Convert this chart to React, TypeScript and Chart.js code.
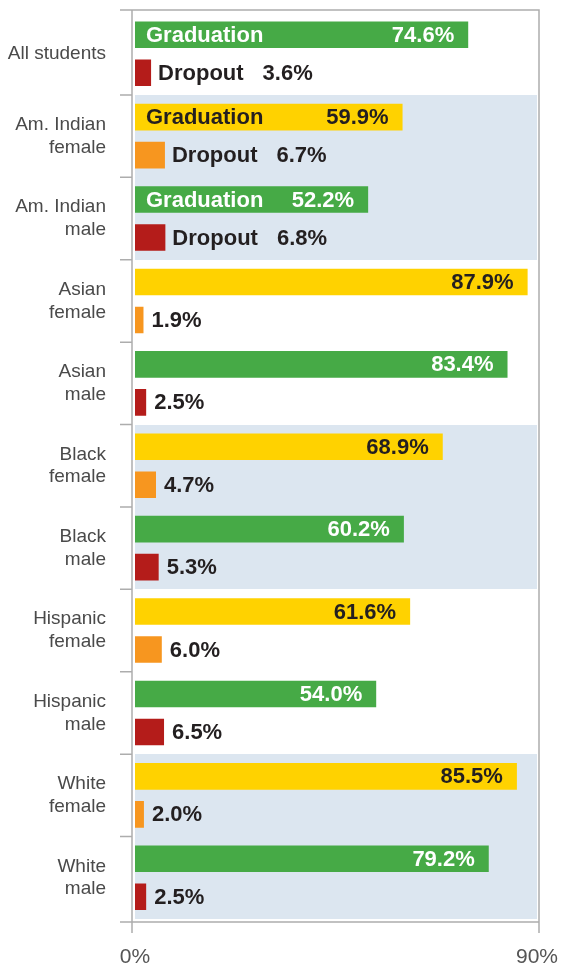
import React, { useEffect, useRef } from 'react';
import { Chart, registerables } from 'chart.js';

Chart.register(...registerables);

// ---- Data ----
const categories: string[][] = [
  ['All students'],
  ['Am. Indian', 'female'],
  ['Am. Indian', 'male'],
  ['Asian', 'female'],
  ['Asian', 'male'],
  ['Black', 'female'],
  ['Black', 'male'],
  ['Hispanic', 'female'],
  ['Hispanic', 'male'],
  ['White', 'female'],
  ['White', 'male'],
];
const graduation = [74.6, 59.9, 52.2, 87.9, 83.4, 68.9, 60.2, 61.6, 54.0, 85.5, 79.2];
const dropout = [3.6, 6.7, 6.8, 1.9, 2.5, 4.7, 5.3, 6.0, 6.5, 2.0, 2.5];
const femaleRows = [false, true, false, true, false, true, false, true, false, true, false];
const shadedRows = [false, true, true, false, false, true, true, false, false, true, true];
const namedRows = [true, true, true, false, false, false, false, false, false, false, false];
const xTicks = [0, 90];
const seriesNames = ['Graduation', 'Dropout'];

// ---- Styles ----
const FONT = '"Liberation Sans", Arial, Helvetica, sans-serif';
const GREEN = '#46AA46';
const YELLOW = '#FFD200';
const RED = '#B41C1A';
const ORANGE = '#F7961F';
const BAND = '#DCE6F0';
const DARK = '#231F20';
const FRAME = '#ADADAD';

const zeroPad = (s: any) => {
  s.paddingTop = 0;
  s.paddingBottom = 0;
  s.paddingLeft = 0;
  s.paddingRight = 0;
};

const decorPlugin = {
  id: 'decor',
  beforeDatasetsDraw(chart: any) {
    const { ctx, chartArea: a, scales } = chart;
    const y = scales.y;
    const step = (a.bottom - a.top) / categories.length;
    ctx.save();
    ctx.fillStyle = BAND;
    shadedRows.forEach((s, i) => {
      if (!s) return;
      const c = y.getPixelForValue(i);
      const top = Math.round(c - step / 2);
      const bot = Math.round(c + step / 2);
      ctx.fillRect(Math.round(a.left), top, Math.round(a.right - a.left), bot - top);
    });
    const L = a.left - 3;
    const R = a.right + 2;
    const T = a.top - 2.5;
    const B = a.bottom + 3;
    ctx.strokeStyle = FRAME;
    ctx.lineWidth = 1.5;
    ctx.beginPath();
    ctx.moveTo(L - 12, T);
    ctx.lineTo(R, T);
    ctx.lineTo(R, B + 11);
    ctx.moveTo(L - 12, B);
    ctx.lineTo(R, B);
    ctx.moveTo(L, T);
    ctx.lineTo(L, B + 11);
    for (let k = 1; k < categories.length; k++) {
      const yy = y.getPixelForValue(k) - step / 2;
      ctx.moveTo(L - 12, yy);
      ctx.lineTo(L, yy);
    }
    ctx.stroke();
    ctx.restore();
  },
  afterDatasetsDraw(chart: any) {
    const { ctx } = chart;
    const m0 = chart.getDatasetMeta(0);
    const m1 = chart.getDatasetMeta(1);
    ctx.save();
    ctx.font = `bold 22px ${FONT}`;
    ctx.textBaseline = 'middle';
    graduation.forEach((v, i) => {
      const bar = m0.data[i];
      ctx.fillStyle = femaleRows[i] ? DARK : '#FFFFFF';
      if (namedRows[i]) {
        ctx.textAlign = 'left';
        ctx.fillText(seriesNames[0], bar.base + 11, bar.y + 1);
      }
      ctx.textAlign = 'right';
      ctx.fillText(v.toFixed(1) + '%', bar.x - 14, bar.y + 1);

      const d = m1.data[i];
      ctx.fillStyle = DARK;
      ctx.textAlign = 'left';
      let x = d.x + 8;
      if (namedRows[i]) {
        x = d.x + 7;
        ctx.fillText(seriesNames[1], x, d.y + 1);
        x += ctx.measureText(seriesNames[1]).width + 19;
      }
      ctx.fillText(dropout[i].toFixed(1) + '%', x, d.y + 1);
    });
    ctx.restore();
  },
};

export default function App() {
  const ref = useRef<HTMLCanvasElement | null>(null);
  useEffect(() => {
    if (!ref.current) return;
    const chart = new Chart(ref.current, {
      type: 'bar',
      data: {
        labels: categories as any,
        datasets: [
          {
            label: seriesNames[0],
            data: graduation,
            backgroundColor: graduation.map((_, i) => (femaleRows[i] ? YELLOW : GREEN)),
            borderWidth: 0,
            categoryPercentage: 0.922,
            barPercentage: 0.7,
          },
          {
            label: seriesNames[1],
            data: dropout,
            backgroundColor: dropout.map((_, i) => (femaleRows[i] ? ORANGE : RED)),
            borderWidth: 0,
            categoryPercentage: 0.922,
            barPercentage: 0.7,
          },
        ],
      },
      options: {
        indexAxis: 'y',
        responsive: false,
        animation: false,
        layout: { padding: { top: 12.5, right: 25, left: 0, bottom: 0 } },
        plugins: { legend: { display: false }, tooltip: { enabled: false } },
        scales: {
          x: {
            min: 0,
            max: 90,
            afterBuildTicks: (s: any) => {
              s.ticks = xTicks.map((v) => ({ value: v }));
            },
            afterFit: (s: any) => {
              s.height = 46;
              zeroPad(s);
            },
            grid: { display: false, drawTicks: false },
            border: { display: false },
            ticks: {
              callback: (v: any) => v + '%',
              color: '#555555',
              font: { size: 21, family: FONT },
              padding: 26,
              maxRotation: 0,
              autoSkip: false,
            },
          },
          y: {
            afterFit: (s: any) => {
              s.width = 135;
              zeroPad(s);
            },
            grid: { display: false, drawTicks: false },
            border: { display: false },
            ticks: {
              color: '#4A4A4A',
              font: { size: 19, family: FONT, lineHeight: 1.2 },
              padding: 29,
              autoSkip: false,
            },
          },
        },
      },
      plugins: [decorPlugin],
    });
    return () => chart.destroy();
  }, []);
  return (
    <div style={{ position: 'absolute', left: 0, top: 0, width: 562, height: 965 }}>
      <canvas ref={ref} width={562} height={965} style={{ display: 'block' }} />
    </div>
  );
}
